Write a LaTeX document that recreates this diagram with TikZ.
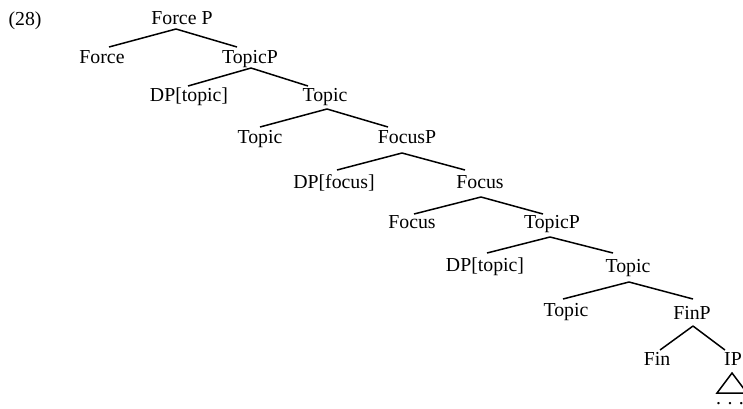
\documentclass[tikz,border=0pt]{standalone}
\usepackage{fontspec}
\setmainfont{Liberation Serif}
\begin{document}
\begin{tikzpicture}[x=1pt,y=-1pt,
  lbl/.style={inner sep=0pt,anchor=base,font=\fontsize{19.8pt}{22pt}\selectfont},
  edge/.style={line width=1.5pt,line join=miter}]
\useasboundingbox (0,0) rectangle (743,408);
\node[lbl] (num) at (25,25) {(28)};
\node[lbl] (forcep) at (182,24.5) {Force P};
\node[lbl] (force) at (102,63.5) {Force};
\node[lbl] (topicpA) at (250,63.5) {TopicP};
\node[lbl] (dptopA) at (189,101.5) {DP[topic]};
\node[lbl] (topicA) at (325,101.5) {Topic};
\node[lbl] (topicB) at (260,143.5) {Topic};
\node[lbl] (focusp) at (407,143.5) {FocusP};
\node[lbl] (dpfoc) at (334,188.5) {DP[focus]};
\node[lbl] (focusA) at (480,188.5) {Focus};
\node[lbl] (focusB) at (412,228.5) {Focus};
\node[lbl] (topicpB) at (552,228.5) {TopicP};
\node[lbl] (dptopB) at (485,271.5) {DP[topic]};
\node[lbl] (topicC) at (628,272.5) {Topic};
\node[lbl] (topicD) at (566,316.5) {Topic};
\node[lbl] (finp) at (692,319.5) {FinP};
\node[lbl] (fin) at (657,365.5) {Fin};
\node[lbl] (ip) at (733,365.5) {IP};
\node[lbl] (dots) at (730,404) {.\hspace{6.5pt}.\hspace{6.5pt}.};
% edges
\draw[edge] ([shift={(-6,4.5)}]forcep.base) -- ([shift={(7,-16.5)}]force.base);
\draw[edge] ([shift={(-6,4.5)}]forcep.base) -- ([shift={(-13,-16.5)}]topicpA.base);
\draw[edge] ([shift={(1,4.5)}]topicpA.base) -- ([shift={(-1,-15.5)}]dptopA.base);
\draw[edge] ([shift={(1,4.5)}]topicpA.base) -- ([shift={(-17,-15.5)}]topicA.base);
\draw[edge] ([shift={(2,7.5)}]topicA.base) -- ([shift={(0,-16.5)}]topicB.base);
\draw[edge] ([shift={(2,7.5)}]topicA.base) -- ([shift={(-19,-16.5)}]focusp.base);
\draw[edge] ([shift={(-5,9.5)}]focusp.base) -- ([shift={(3,-18.5)}]dpfoc.base);
\draw[edge] ([shift={(-5,9.5)}]focusp.base) -- ([shift={(-15,-18.5)}]focusA.base);
\draw[edge] ([shift={(1,8.5)}]focusA.base) -- ([shift={(2,-14.5)}]focusB.base);
\draw[edge] ([shift={(1,8.5)}]focusA.base) -- ([shift={(-9,-14.5)}]topicpB.base);
\draw[edge] ([shift={(-2,8.5)}]topicpB.base) -- ([shift={(2,-18.5)}]dptopB.base);
\draw[edge] ([shift={(-2,8.5)}]topicpB.base) -- ([shift={(-15,-19.5)}]topicC.base);
\draw[edge] ([shift={(1,9.5)}]topicC.base) -- ([shift={(-3,-17.5)}]topicD.base);
\draw[edge] ([shift={(1,9.5)}]topicC.base) -- ([shift={(1,-20.5)}]finp.base);
\draw[edge] ([shift={(1,6.5)}]finp.base) -- ([shift={(3,-15.5)}]fin.base);
\draw[edge] ([shift={(1,6.5)}]finp.base) -- ([shift={(-8,-15.5)}]ip.base);
\draw[edge] ([shift={(-1,7.5)}]ip.base) -- ([shift={(-16,27.5)}]ip.base) -- ([shift={(14,27.5)}]ip.base) -- cycle;
\end{tikzpicture}
\end{document}
